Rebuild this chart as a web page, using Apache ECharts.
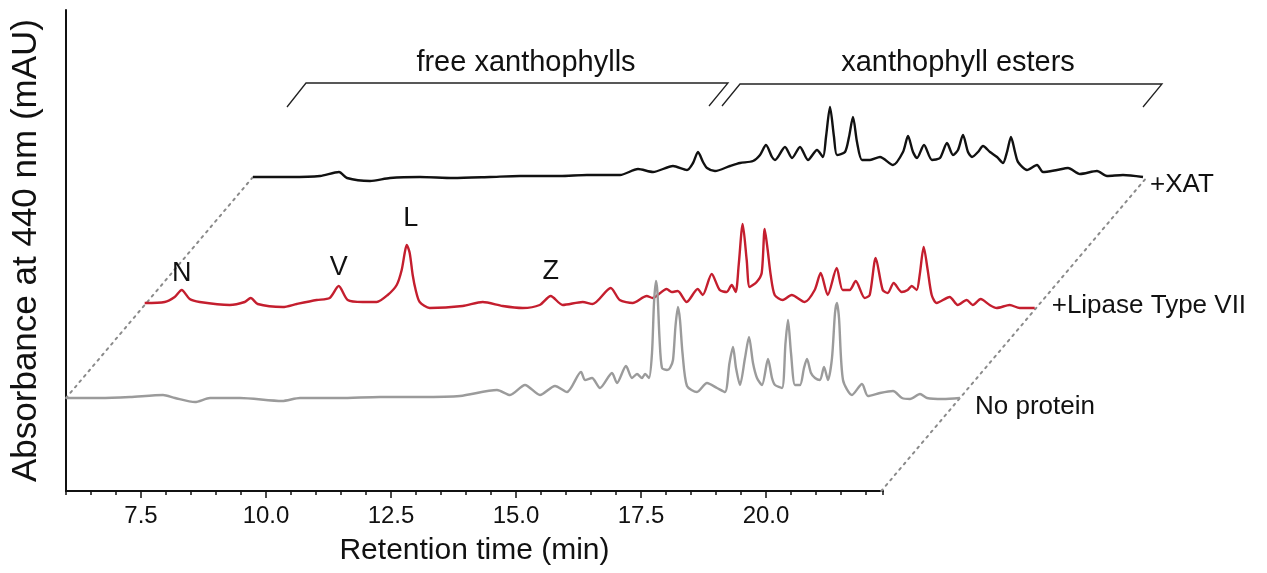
<!DOCTYPE html>
<html>
<head>
<meta charset="utf-8">
<script src="https://cdn.jsdelivr.net/npm/echarts@6/dist/echarts.min.js"></script>
<style>
  html, body { margin: 0; background: #fff; }
  #chart { width: 1267px; height: 573px; }
</style>
</head>
<body>
<div id="chart"></div>
<script>
// tick labels of the retention time axis (min)
const xTickLabels = [7.5, 10.0, 12.5, 15.0, 17.5, 20.0];

// chromatograms, [retention time (min), absorbance (mAU)]
const noProtein = [
  [6.00, 0], [6.68, 0], [7.28, 1], [7.94, 3], [8.18, 0], [8.58, -4], [8.88, 0], [9.48, 0],
  [10.32, -3], [10.68, 0], [11.48, 0], [12.28, 1], [13.08, 1], [13.88, 2], [14.62, 8], [14.88, 3],
  [15.18, 13], [15.48, 3], [15.78, 12], [16.02, 6], [16.30, 26], [16.38, 18], [16.52, 20], [16.68, 10],
  [16.92, 25], [17.02, 15], [17.20, 32], [17.32, 20], [17.42, 24], [17.52, 20], [17.58, 24], [17.66, 20],
  [17.72, 45], [17.76, 95], [17.80, 117], [17.83, 105], [17.87, 60], [17.92, 30], [18.02, 28], [18.08, 30],
  [18.14, 38], [18.19, 72], [18.24, 91], [18.28, 78], [18.33, 45], [18.42, 12], [18.62, 6], [18.82, 15],
  [19.02, 10], [19.18, 6], [19.27, 35], [19.34, 51], [19.40, 30], [19.48, 13], [19.58, 40], [19.66, 61],
  [19.74, 35], [19.82, 20], [19.92, 13], [20.04, 39], [20.12, 20], [20.18, 13], [20.32, 10], [20.39, 55],
  [20.44, 78], [20.50, 45], [20.58, 13], [20.68, 13], [20.76, 30], [20.82, 39], [20.90, 25], [20.98, 20],
  [21.08, 18], [21.16, 31], [21.24, 18], [21.32, 40], [21.38, 85], [21.42, 95], [21.46, 80], [21.54, 18],
  [21.72, 3], [21.92, 14], [22.04, 2], [22.28, 5], [22.54, 7], [22.72, 0], [22.88, -1], [23.08, 4],
  [23.22, 0], [23.54, -1], [23.88, 0]
];
const lipase = [
  [6.00, 2], [6.40, 3], [6.60, 8], [6.74, 15], [6.90, 6], [7.10, 3], [7.70, 0], [8.00, 3],
  [8.12, 7], [8.26, 1], [8.76, -2], [9.04, 1], [9.44, 5], [9.70, 7], [9.88, 19], [10.06, 5],
  [10.36, 3], [10.64, 3], [10.86, 10], [11.04, 20], [11.14, 35], [11.20, 52], [11.24, 60], [11.30, 52],
  [11.36, 30], [11.42, 15], [11.50, 3], [11.70, -3], [12.36, -1], [12.76, 3], [13.16, -1], [13.56, -3],
  [13.90, 0], [14.12, 9], [14.36, 0], [14.76, 3], [14.96, 1], [15.32, 17], [15.50, 5], [15.76, 2],
  [16.04, 9], [16.16, 7], [16.44, 16], [16.54, 13], [16.66, 14], [16.84, 3], [17.06, 16], [17.16, 10],
  [17.34, 31], [17.50, 15], [17.64, 13], [17.74, 20], [17.82, 13], [17.88, 40], [17.96, 81], [18.04, 45],
  [18.10, 18], [18.24, 23], [18.34, 32], [18.40, 76], [18.46, 55], [18.52, 30], [18.60, 10], [18.76, 5],
  [18.94, 10], [19.20, 3], [19.40, 15], [19.52, 32], [19.66, 10], [19.84, 37], [19.96, 15], [20.10, 15],
  [20.22, 24], [20.40, 7], [20.50, 10], [20.62, 47], [20.76, 15], [20.86, 12], [20.98, 22], [21.14, 13],
  [21.26, 15], [21.34, 19], [21.44, 15], [21.50, 30], [21.58, 58], [21.66, 35], [21.74, 10], [21.84, 2],
  [22.10, 8], [22.26, 0], [22.44, 5], [22.56, 0], [22.72, 6], [22.90, 0], [23.04, -3], [23.30, 0],
  [23.50, -3], [23.80, -3]
];
const xat = [
  [6.00, 0], [6.74, 0], [7.34, 1], [7.72, 5], [7.88, -1], [8.34, -4], [8.74, -1], [9.34, 0],
  [10.00, -1], [10.74, 0], [11.34, 1], [12.14, 1], [12.68, 2], [13.34, 2], [13.70, 8], [14.00, 5],
  [14.40, 11], [14.68, 7], [14.80, 14], [14.90, 25], [15.00, 15], [15.08, 9], [15.24, 6], [15.54, 11],
  [15.74, 14], [16.00, 16], [16.14, 22], [16.26, 32], [16.38, 20], [16.44, 17], [16.64, 30], [16.78, 19],
  [16.94, 30], [17.10, 17], [17.28, 27], [17.40, 20], [17.46, 40], [17.54, 70], [17.62, 40], [17.68, 22],
  [17.84, 25], [17.92, 40], [18.00, 60], [18.08, 35], [18.18, 17], [18.34, 17], [18.54, 20], [18.80, 12],
  [19.00, 25], [19.10, 41], [19.20, 25], [19.28, 19], [19.42, 32], [19.58, 17], [19.74, 19], [19.88, 34],
  [20.00, 22], [20.10, 27], [20.20, 42], [20.30, 25], [20.38, 20], [20.50, 25], [20.60, 31], [20.74, 25],
  [20.88, 20], [21.00, 14], [21.08, 25], [21.16, 40], [21.24, 25], [21.30, 15], [21.48, 7], [21.68, 12],
  [21.80, 5], [22.08, 7], [22.30, 9], [22.54, 3], [22.88, 6], [23.08, 1], [23.40, 2], [23.80, 0]
];

// peaks named on the lipase trace
const peakNames = ['N', 'V', 'L', 'Z'];
const peakTimes = [6.74, 9.88, 11.32, 14.12];
const peakHeights = [15, 19, 60, 9];

// layout of the stacked (waterfall) view: shift of each trace in min / mAU
const shiftRatio = 3.74 / 221;
const shifts = { noProtein: [0, 0], lipase: [93 * shiftRatio, 93], xat: [221 * shiftRatio, 221] };
const labelLift = [16, 18, 26, 24];
const floorLevel = -93;

const font = 'Liberation Sans, Arial, sans-serif';
const shifted = (arr, s) => arr.map(p => [p[0] + s[0], p[1] + s[1]]);

const greyEnd = noProtein[noProtein.length - 1][0];
const guideLeft = [[6, 0], [6 + shifts.xat[0], shifts.xat[1]]];
const guideRight = [
  [greyEnd + floorLevel * shiftRatio, floorLevel],
  [greyEnd + shifts.xat[0], shifts.xat[1]]
];

const chart = echarts.init(document.getElementById('chart'));

function trace(name, data, color, endOffset) {
  return {
    name: name, type: 'line', xAxisIndex: 2, yAxisIndex: 1,
    data: data, showSymbol: false, smooth: 0.25, animation: false,
    lineStyle: { color: color, width: 2.4 },
    endLabel: {
      show: true, formatter: name, distance: 0, offset: endOffset,
      fontFamily: font, fontSize: 26, color: '#111'
    }
  };
}

const lipaseSeries = trace('+Lipase Type VII', shifted(lipase, shifts.lipase), '#c41e2e', [17, -2]);
lipaseSeries.markPoint = {
  symbol: 'circle', symbolSize: 0,
  label: { show: true, position: 'inside', fontFamily: font, fontSize: 27, color: '#111', formatter: '{b}' },
  data: peakNames.map((n, i) => ({
    name: n,
    coord: [peakTimes[i] + shifts.lipase[0], peakHeights[i] + labelLift[i] + shifts.lipase[1]]
  }))
};

const guideStyle = { color: '#8a8a8a', width: 2, type: [2, 5], cap: 'round' };

chart.setOption({
  backgroundColor: '#fff',
  animation: false,
  grid: [
    { left: 66, top: 10, width: 817, height: 481 },
    { left: 66, top: 10, width: 1100, height: 481 }
  ],
  xAxis: [
    {
      gridIndex: 0, type: 'value', position: 'bottom', offset: 0,
      min: 6, max: 22.34, interval: 0.5,
      axisLine: { lineStyle: { color: '#111', width: 2 } },
      axisTick: { length: 4, lineStyle: { color: '#111', width: 1.5 } },
      axisLabel: { show: false }, splitLine: { show: false }
    },
    {
      gridIndex: 0, type: 'value', position: 'bottom', offset: 0,
      min: 6, max: 22.34,
      axisLine: { show: false },
      axisTick: { customValues: xTickLabels, length: 7, lineStyle: { color: '#111', width: 1.5 } },
      axisLabel: {
        customValues: xTickLabels, formatter: v => v.toFixed(1),
        fontFamily: font, fontSize: 24, color: '#111', margin: 13
      },
      splitLine: { show: false },
      name: 'Retention time (min)', nameLocation: 'middle', nameGap: 45,
      nameTextStyle: { fontFamily: font, fontSize: 30, color: '#111' }
    },
    { gridIndex: 1, type: 'value', min: 6, max: 28, show: false }
  ],
  yAxis: [
    {
      gridIndex: 0, type: 'value', min: 0, max: 1,
      axisLine: { show: true, lineStyle: { color: '#111', width: 2 } },
      axisTick: { show: false }, axisLabel: { show: false }, splitLine: { show: false },
      name: 'Absorbance at 440 nm (mAU)', nameLocation: 'middle', nameGap: 22,
      nameTextStyle: { fontFamily: font, fontSize: 35, color: '#111' }
    },
    { gridIndex: 1, type: 'value', min: floorLevel, max: 481 + floorLevel, show: false }
  ],
  graphic: [
    { type: 'polyline', shape: { points: [[287, 107], [306, 83], [728, 83], [709, 106]] },
      style: { stroke: '#222', lineWidth: 1.3, fill: null } },
    { type: 'polyline', shape: { points: [[722, 106], [740, 84], [1162, 84], [1143, 107]] },
      style: { stroke: '#222', lineWidth: 1.3, fill: null } },
    { type: 'text', x: 526, y: 63, style: { text: 'free xanthophylls', font: '29px ' + font,
      fill: '#111', textAlign: 'center', textVerticalAlign: 'middle' } },
    { type: 'text', x: 958, y: 63, style: { text: 'xanthophyll esters', font: '29px ' + font,
      fill: '#111', textAlign: 'center', textVerticalAlign: 'middle' } }
  ],
  series: [
    { type: 'line', xAxisIndex: 2, yAxisIndex: 1, data: guideLeft, showSymbol: false, lineStyle: guideStyle, silent: true },
    { type: 'line', xAxisIndex: 2, yAxisIndex: 1, data: guideRight, showSymbol: false, lineStyle: guideStyle, silent: true },
    trace('+XAT', shifted(xat, shifts.xat), '#111', [7, 8]),
    lipaseSeries,
    trace('No protein', shifted(noProtein, shifts.noProtein), '#9b9b9b', [15, 9])
  ]
});
</script>
</body>
</html>
